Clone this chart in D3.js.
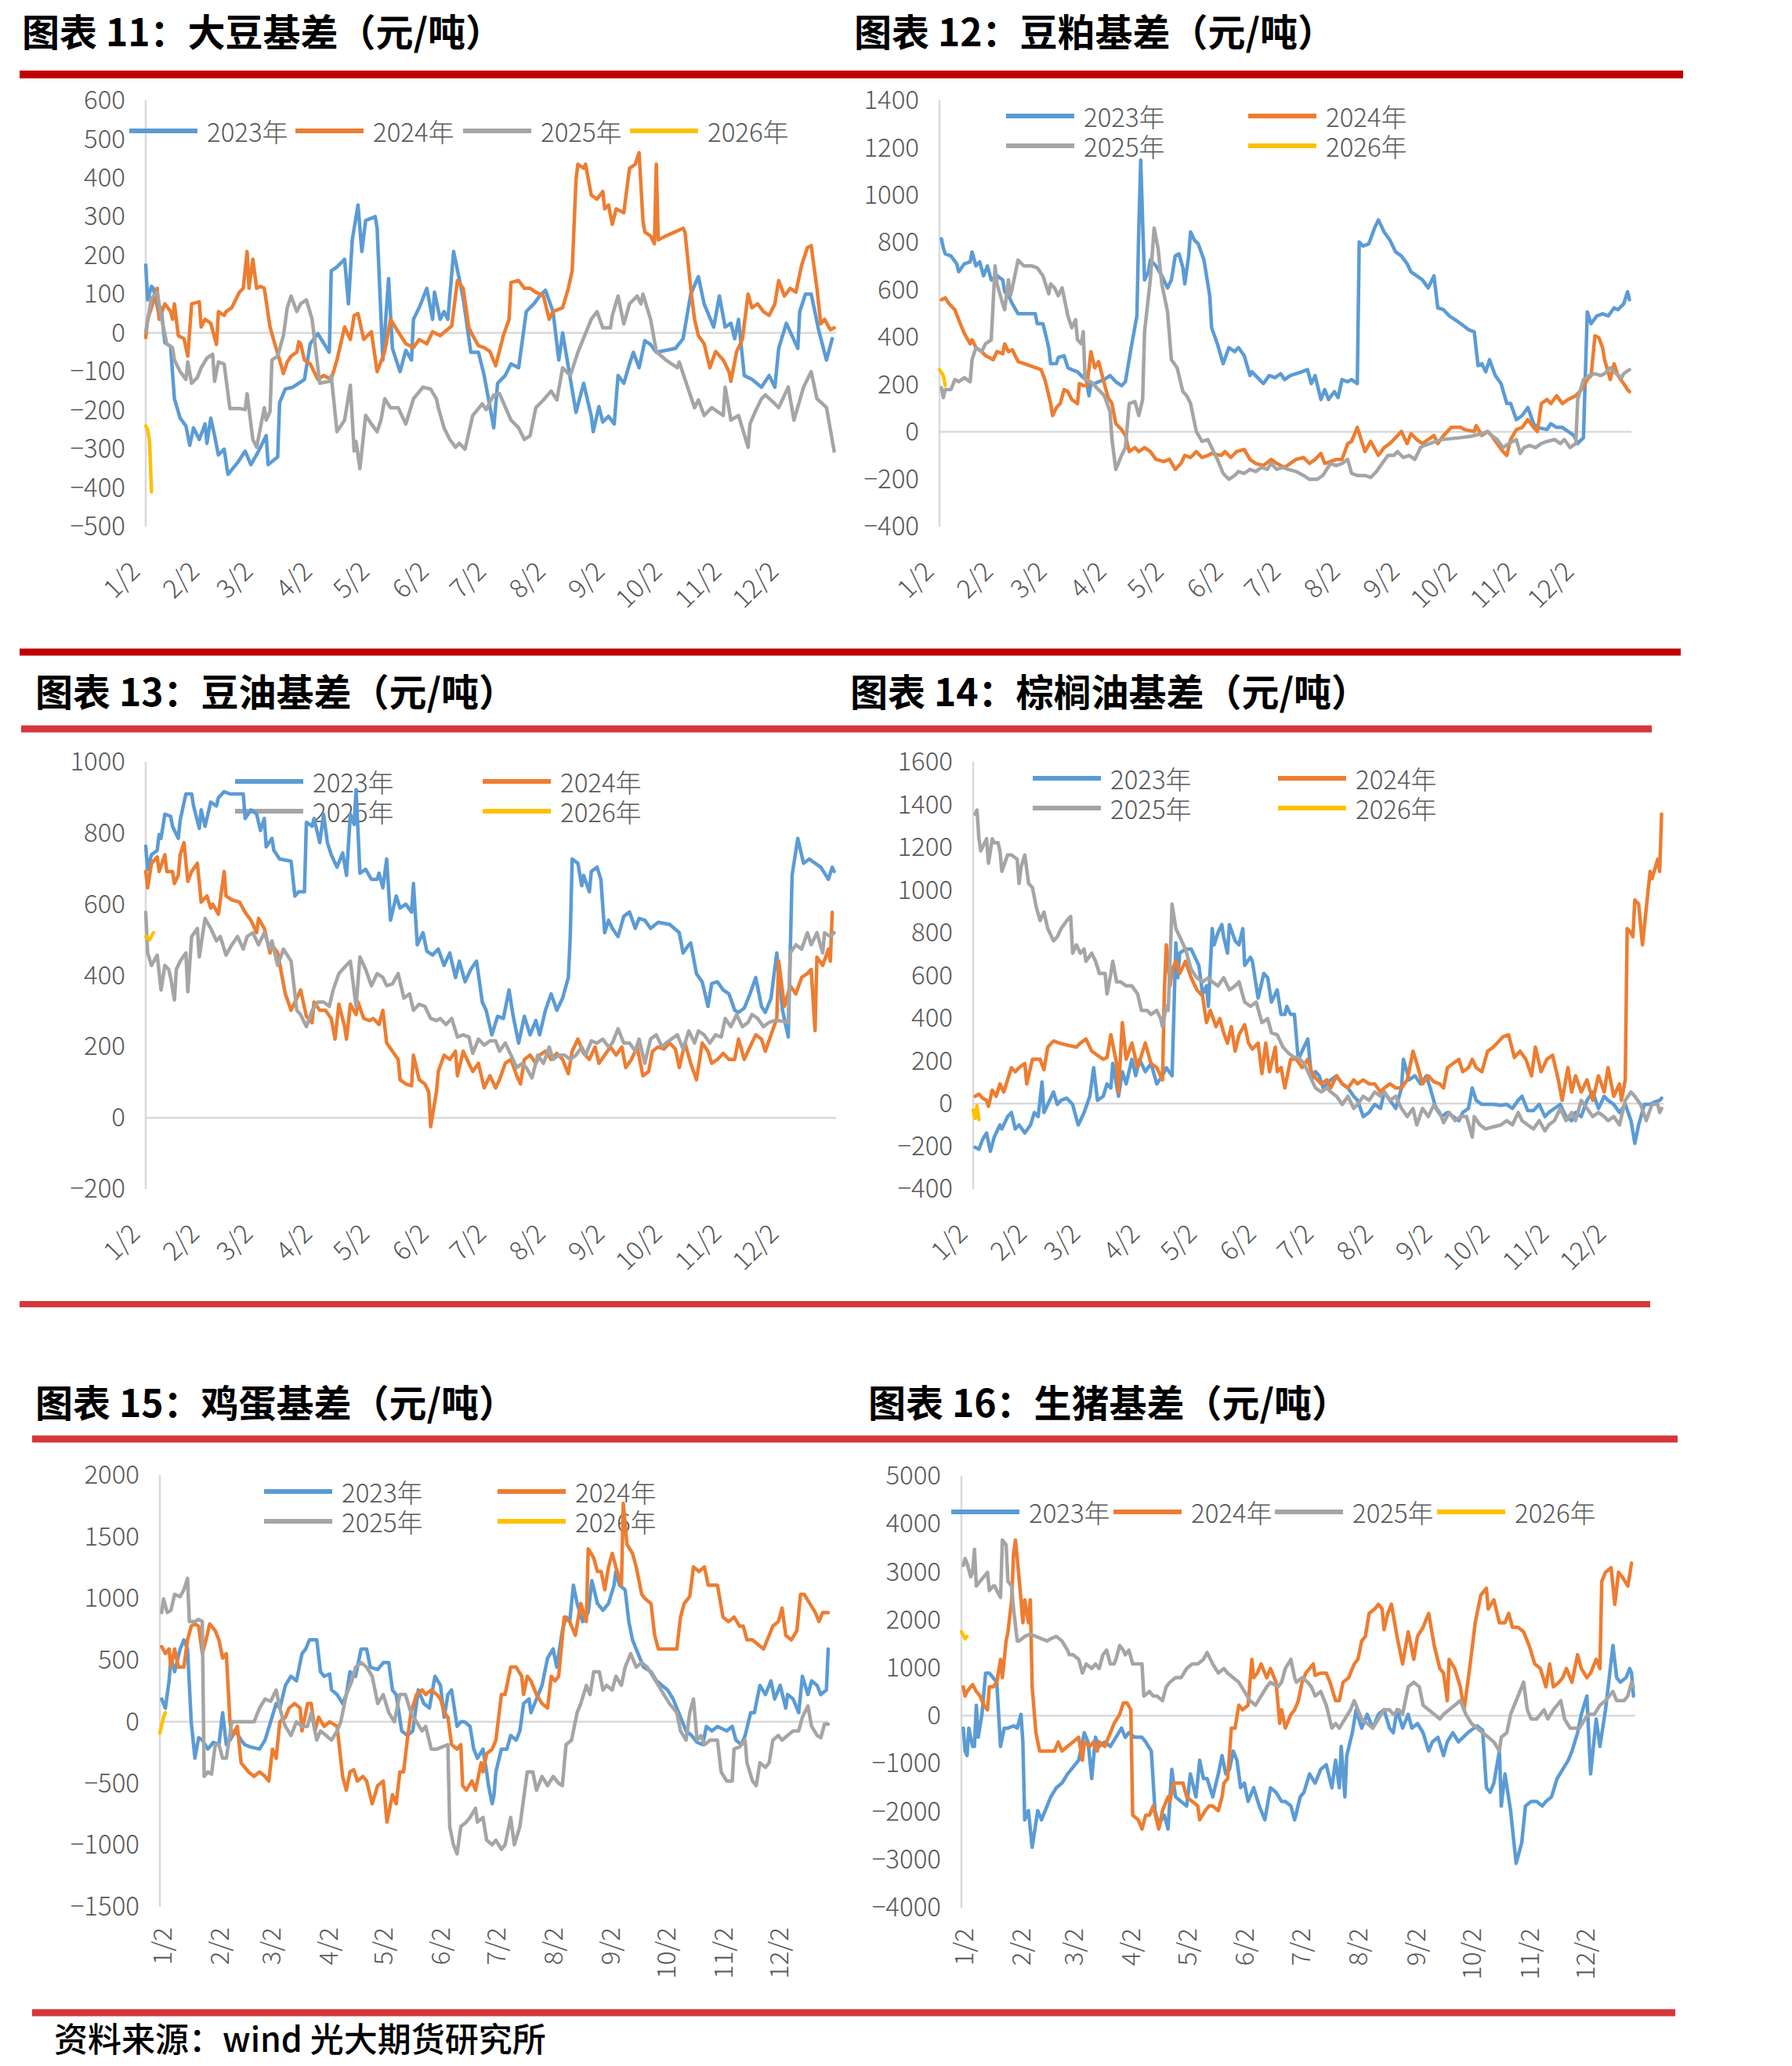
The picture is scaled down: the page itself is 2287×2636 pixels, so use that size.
<!DOCTYPE html>
<html>
<head>
<meta charset="utf-8">
<script src="https://cdn.jsdelivr.net/npm/d3@7"></script>
<style>
  body { margin: 0; background: #fff; }
  text { font-family: "Noto Sans CJK SC", "Noto Sans", sans-serif; }
</style>
</head>
<body>
<svg id="page" width="2287" height="2636"></svg>
<script>
const W = 2287, H = 2636;

const yearNames = ['2023年', '2024年', '2025年', '2026年'];
const yearColors = ['#5B9BD5', '#ED7D31', '#A5A5A5', '#FFC000'];
const monthLabels = ['1/2','2/2','3/2','4/2','5/2','6/2','7/2','8/2','9/2','10/2','11/2','12/2'];
const sourceText = '资料来源：wind 光大期货研究所';

// [days since 1/2, basis] pairs
const soy23 = [[0,175],[1,85],[3,120],[4,115],[7,45],[8,65],[10,-25],[13,-35],[15,-170],[18,-220],[21,-240],[23,-290],[25,-245],[28,-275],[31,-235],[32,-285],[34,-220],[36,-265],[38,-315],[41,-300],[43,-365],[48,-335],[52,-305],[55,-340],[59,-305],[63,-265],[64,-340],[69,-320],[70,-180],[73,-145],[77,-140],[83,-120],[86,-28],[90,-2],[96,-50],[97,160],[100,170],[104,190],[106,75],[108,240],[111,330],[113,210],[115,290],[120,300],[121,270],[124,-70],[127,140],[129,-40],[133,-100],[136,-45],[139,-70],[140,35],[143,65],[147,115],[150,35],[151,105],[154,35],[156,55],[158,35],[161,210],[166,90],[170,-50],[174,-50],[177,-110],[182,-245],[184,-130],[188,-110],[191,-80],[195,-90],[199,55],[203,75],[206,95],[209,110],[213,55],[216,-70],[218,0],[225,-205],[229,-130],[233,-215],[234,-255],[237,-190],[239,-230],[242,-215],[245,-235],[247,-110],[250,-130],[253,-80],[255,-50],[258,-90],[261,-20],[264,-30],[267,-50],[277,-40],[281,-15],[285,100],[289,145],[292,75],[297,15],[300,95],[303,15],[306,25],[308,-15],[310,35],[313,-110],[317,-120],[322,-140],[326,-110],[329,-140],[331,-40],[335,25],[341,-40],[342,55],[345,100],[348,100],[352,5],[356,-70],[359,-15]];
const soy24 = [[0,-12],[1,35],[3,65],[6,115],[7,35],[10,75],[13,55],[14,35],[15,75],[17,-7],[20,-15],[22,-60],[24,75],[28,80],[29,15],[31,35],[34,25],[37,-30],[38,55],[41,45],[42,55],[45,65],[49,105],[51,115],[53,210],[54,115],[56,190],[58,115],[60,120],[62,115],[65,15],[67,-20],[70,-70],[72,-105],[74,-75],[76,-60],[79,-50],[80,-23],[81,-28],[83,-70],[86,-80],[90,-120],[93,-110],[97,-120],[100,-70],[104,15],[107,-17],[109,45],[111,50],[114,-17],[118,3],[121,-100],[125,-48],[128,35],[132,3],[136,-28],[140,-38],[143,-17],[147,-28],[150,3],[154,-7],[160,18],[163,135],[166,115],[169,13],[171,-7],[174,-33],[177,-38],[180,-48],[183,-85],[187,-7],[190,35],[191,130],[195,135],[198,115],[201,115],[204,105],[208,95],[211,35],[213,55],[218,65],[221,115],[223,160],[225,395],[226,435],[229,425],[230,435],[233,355],[236,345],[239,365],[240,320],[242,330],[244,280],[246,320],[250,310],[253,425],[256,435],[258,465],[260,290],[261,260],[264,250],[266,230],[267,435],[268,240],[272,250],[281,270],[282,260],[285,115],[287,35],[289,-7],[292,-28],[295,-90],[298,-48],[302,-70],[305,-100],[306,-125],[309,-48],[312,-17],[315,100],[317,65],[320,75],[323,55],[326,45],[329,75],[331,135],[334,95],[337,115],[340,105],[343,175],[346,220],[348,225],[351,115],[353,23],[355,35],[358,8],[360,13]];
const soy25 = [[0,3],[3,90],[6,105],[8,45],[11,-28],[14,-38],[15,-70],[18,-100],[21,-120],[22,-75],[24,-130],[27,-115],[29,-90],[32,-65],[35,-55],[36,-125],[38,-75],[41,-80],[44,-195],[49,-195],[52,-198],[53,-157],[56,-275],[58,-295],[62,-193],[63,-225],[65,-203],[66,-70],[69,-60],[72,-7],[74,65],[76,95],[79,55],[81,75],[84,85],[87,35],[91,-130],[96,-125],[97,-110],[100,-255],[104,-225],[107,-135],[109,-305],[110,-280],[112,-350],[115,-213],[118,-235],[121,-255],[123,-225],[125,-170],[128,-193],[132,-193],[136,-235],[140,-170],[145,-140],[149,-145],[152,-170],[153,-193],[156,-245],[159,-275],[162,-295],[164,-285],[167,-300],[171,-213],[176,-183],[178,-198],[182,-160],[185,-157],[191,-225],[195,-245],[198,-275],[201,-265],[204,-193],[208,-173],[212,-150],[215,-173],[218,-90],[222,-110],[226,-50],[233,35],[236,55],[239,13],[243,13],[244,45],[247,95],[250,23],[253,75],[257,95],[259,75],[260,100],[264,35],[267,-48],[272,-70],[278,-90],[279,-75],[282,-120],[287,-193],[289,-173],[292,-213],[296,-193],[302,-213],[303,-140],[306,-225],[310,-213],[315,-295],[316,-235],[319,-200],[322,-170],[324,-160],[329,-183],[331,-193],[336,-140],[339,-225],[344,-140],[348,-100],[351,-170],[354,-183],[356,-193],[360,-305]];
const soy26 = [[0,-240],[1,-250],[2,-280],[3,-410]];

const meal23 = [[1,815],[2,777],[3,752],[6,743],[9,710],[10,676],[13,710],[16,718],[17,760],[19,701],[21,718],[23,659],[25,701],[27,642],[30,659],[33,642],[34,592],[36,575],[38,541],[41,499],[46,499],[50,499],[51,457],[54,457],[57,356],[58,288],[61,288],[62,314],[65,322],[67,271],[69,263],[72,254],[75,229],[76,246],[78,153],[79,204],[81,204],[83,212],[86,221],[89,238],[92,212],[95,195],[97,212],[100,356],[103,490],[104,861],[105,1148],[106,884],[107,642],[109,676],[110,726],[113,701],[116,659],[119,608],[121,642],[123,743],[125,752],[127,693],[128,625],[130,743],[131,844],[133,810],[135,794],[138,726],[141,575],[142,440],[145,372],[148,288],[151,356],[154,339],[156,356],[159,322],[162,238],[163,254],[166,229],[169,204],[172,238],[175,229],[178,246],[180,221],[183,238],[186,246],[189,254],[192,263],[194,204],[196,238],[199,137],[201,179],[203,137],[206,170],[208,145],[210,221],[213,212],[215,221],[218,204],[219,802],[221,785],[224,794],[227,861],[229,895],[232,844],[235,810],[238,760],[241,743],[244,710],[246,676],[249,659],[252,642],[255,608],[258,659],[260,524],[263,516],[266,490],[269,474],[272,457],[276,432],[279,423],[281,280],[283,288],[285,254],[287,305],[290,238],[293,204],[296,120],[298,120],[301,52],[304,69],[307,103],[310,35],[312,19],[317,10],[319,35],[322,19],[325,19],[328,2],[331,-15],[333,-49],[336,-24],[338,507],[340,457],[343,490],[346,499],[349,490],[352,524],[354,516],[357,541],[359,592],[360,558]];
const meal24 = [[1,558],[3,566],[5,541],[8,516],[10,474],[13,415],[16,372],[17,389],[19,356],[22,339],[24,322],[26,314],[28,305],[30,339],[33,330],[34,372],[36,339],[38,347],[41,297],[47,280],[53,263],[55,221],[58,120],[59,69],[61,103],[63,120],[65,179],[67,170],[69,137],[72,120],[73,204],[75,196],[77,196],[79,339],[81,271],[83,297],[86,204],[88,145],[90,120],[92,35],[95,10],[97,-15],[99,-83],[102,-66],[104,-83],[107,-66],[110,-83],[113,-116],[117,-125],[120,-116],[123,-158],[126,-133],[128,-99],[131,-108],[134,-83],[137,-108],[140,-99],[142,-91],[147,-99],[149,-83],[152,-108],[155,-83],[159,-74],[162,-116],[165,-133],[169,-142],[173,-116],[176,-133],[180,-150],[183,-133],[186,-116],[190,-108],[193,-133],[196,-116],[199,-91],[201,-133],[204,-125],[207,-116],[210,-116],[213,-49],[215,-40],[218,19],[220,-32],[222,-83],[225,-40],[229,-99],[232,-66],[235,-49],[238,-24],[241,2],[244,-49],[246,-7],[249,-32],[252,-49],[255,-32],[258,-15],[260,-49],[263,-15],[267,19],[272,19],[274,10],[279,2],[280,27],[283,-15],[286,2],[288,-15],[291,-49],[294,-83],[296,-99],[298,-32],[301,10],[304,19],[307,52],[310,19],[312,2],[314,120],[317,137],[319,120],[322,153],[325,120],[328,137],[332,153],[335,179],[338,221],[340,238],[342,406],[344,398],[346,356],[347,305],[350,221],[352,288],[354,238],[357,204],[359,179],[360,170]];
const meal25 = [[1,187],[2,145],[3,179],[6,179],[8,221],[10,212],[13,229],[16,212],[17,305],[19,356],[22,339],[24,372],[27,389],[29,701],[30,625],[33,541],[34,516],[36,642],[37,575],[38,608],[41,726],[44,701],[48,701],[51,693],[54,659],[57,583],[58,625],[60,608],[62,575],[64,608],[67,490],[69,440],[71,474],[72,389],[74,372],[75,423],[76,221],[79,212],[82,187],[86,153],[89,86],[90,-32],[92,-158],[95,-99],[97,-66],[99,120],[102,128],[104,69],[106,137],[107,423],[110,642],[112,861],[114,777],[116,625],[119,507],[121,305],[124,271],[127,170],[129,153],[131,120],[134,2],[137,-40],[140,-32],[142,-66],[145,-116],[148,-175],[151,-200],[154,-184],[156,-167],[159,-175],[162,-158],[165,-167],[168,-150],[171,-158],[173,-133],[176,-158],[179,-150],[182,-158],[186,-167],[190,-184],[193,-200],[197,-200],[200,-184],[204,-133],[207,-142],[210,-133],[213,-116],[215,-175],[218,-184],[222,-184],[225,-192],[228,-167],[231,-133],[234,-99],[237,-99],[239,-83],[242,-108],[245,-99],[248,-116],[251,-66],[253,-57],[256,-49],[259,-40],[262,-32],[266,-29],[272,-24],[277,-19],[283,-7],[286,2],[288,-15],[291,-32],[294,-66],[297,-49],[301,-32],[303,-91],[305,-66],[308,-57],[311,-66],[314,-49],[317,-40],[321,-32],[324,-49],[326,-32],[329,-66],[332,-49],[333,137],[336,221],[339,238],[342,246],[345,238],[347,246],[350,271],[353,246],[356,229],[357,246],[360,263]];
const meal26 = [[0,263],[2,238],[3,196]];

const oil23 = [[0,763],[1,698],[3,739],[6,751],[7,796],[8,785],[10,853],[13,847],[14,819],[17,785],[18,836],[21,910],[24,910],[25,876],[28,813],[29,865],[31,819],[34,887],[37,876],[38,899],[41,916],[44,910],[51,910],[52,841],[55,865],[58,853],[60,807],[62,841],[63,761],[66,785],[67,751],[70,727],[76,721],[78,623],[80,635],[83,635],[84,830],[87,819],[88,841],[91,773],[93,853],[95,773],[97,739],[100,704],[103,744],[105,681],[107,853],[109,824],[110,922],[112,687],[115,698],[118,670],[121,670],[122,687],[124,646],[126,727],[128,555],[131,623],[133,589],[136,600],[139,578],[140,658],[142,486],[145,520],[147,468],[150,457],[153,474],[156,428],[159,463],[162,394],[164,440],[167,382],[170,417],[173,440],[176,325],[178,302],[181,233],[184,285],[187,279],[190,359],[192,290],[195,210],[198,285],[201,233],[204,273],[206,233],[209,302],[212,348],[215,302],[218,336],[221,394],[222,509],[223,727],[226,715],[228,652],[229,681],[232,635],[233,692],[236,704],[238,670],[240,520],[242,555],[244,532],[247,509],[250,566],[253,578],[256,532],[258,560],[261,555],[264,532],[268,549],[274,543],[279,520],[281,463],[284,486],[285,491],[288,405],[291,382],[294,313],[296,377],[299,382],[302,359],[305,348],[308,302],[310,296],[313,308],[316,348],[319,394],[322,313],[324,296],[327,336],[330,463],[333,302],[336,227],[338,681],[341,785],[344,715],[347,727],[350,715],[353,704],[355,687],[357,670],[359,704],[360,692]];
const oil24 = [[0,692],[1,646],[3,715],[6,733],[7,692],[10,739],[11,692],[14,692],[15,658],[17,681],[18,739],[20,773],[22,664],[24,692],[27,715],[29,606],[32,623],[34,589],[35,600],[38,572],[41,692],[42,623],[45,612],[49,606],[52,577],[55,555],[58,520],[59,560],[62,532],[65,463],[66,486],[69,463],[71,405],[73,348],[76,302],[79,336],[81,359],[84,285],[87,267],[88,325],[91,302],[94,302],[97,279],[99,221],[101,319],[104,256],[105,221],[107,319],[110,290],[111,325],[114,279],[117,273],[119,279],[122,262],[124,302],[126,210],[129,187],[132,164],[133,107],[136,95],[139,90],[140,176],[143,107],[146,95],[148,72],[149,-25],[152,72],[153,130],[156,176],[159,164],[162,187],[163,118],[166,187],[169,153],[171,130],[174,153],[177,84],[180,118],[183,84],[185,107],[188,153],[191,164],[194,118],[196,95],[198,164],[201,176],[204,153],[206,176],[209,187],[212,164],[215,181],[218,164],[221,124],[223,187],[226,221],[229,181],[232,164],[235,199],[237,153],[240,176],[243,199],[246,176],[249,199],[251,141],[254,164],[257,199],[260,118],[263,130],[265,187],[268,199],[271,193],[274,210],[277,193],[279,141],[282,210],[285,153],[288,107],[291,210],[294,187],[296,153],[299,164],[302,181],[305,164],[308,164],[310,221],[313,164],[316,199],[319,233],[322,221],[324,187],[327,233],[330,279],[331,440],[334,313],[337,371],[340,348],[343,394],[346,405],[348,417],[350,245],[351,451],[354,428],[357,474],[358,440],[359,577]];
const oil25 = [[0,577],[1,463],[3,428],[6,457],[8,359],[10,428],[12,417],[13,394],[15,331],[16,417],[18,440],[21,463],[22,354],[24,509],[27,532],[28,452],[31,560],[34,532],[37,497],[39,509],[42,457],[45,486],[48,509],[51,474],[53,509],[56,520],[59,486],[62,520],[65,474],[66,497],[69,428],[72,474],[76,440],[79,302],[81,290],[84,256],[87,302],[90,325],[93,325],[96,313],[98,359],[101,405],[104,423],[107,440],[110,313],[112,452],[115,417],[118,371],[121,405],[124,394],[126,371],[129,376],[132,405],[135,336],[138,348],[140,302],[143,319],[146,313],[149,279],[152,273],[154,279],[157,262],[160,279],[163,227],[166,233],[169,227],[171,181],[174,221],[177,204],[180,216],[183,216],[185,187],[188,210],[191,176],[194,141],[197,153],[199,141],[202,112],[205,176],[208,153],[211,199],[213,164],[216,176],[219,176],[222,164],[225,176],[228,199],[230,176],[233,216],[236,210],[239,221],[242,199],[244,210],[247,250],[250,210],[253,210],[256,187],[258,221],[261,153],[264,221],[267,233],[270,199],[272,210],[278,233],[281,193],[284,244],[287,210],[289,244],[292,233],[295,210],[298,233],[301,227],[303,279],[306,256],[309,290],[312,256],[315,268],[317,290],[320,279],[323,256],[326,268],[329,273],[331,273],[336,268],[337,463],[340,486],[343,474],[346,520],[348,486],[351,520],[354,463],[355,520],[358,509],[360,520]];
const oil26 = [[0,509],[2,500],[4,520]];

const palm23 = [[1,-205],[3,-214],[5,-167],[7,-138],[9,-224],[11,-157],[14,-100],[15,-119],[18,-61],[20,-42],[22,-119],[24,-100],[27,-138],[30,-100],[32,-42],[34,-61],[36,101],[37,-42],[39,-4],[42,54],[44,-4],[46,15],[49,25],[52,-4],[54,-71],[55,-100],[58,-42],[61,34],[63,168],[65,15],[68,34],[70,92],[72,73],[73,188],[76,34],[78,149],[80,92],[83,207],[85,130],[87,207],[90,149],[93,188],[96,92],[99,130],[101,168],[104,130],[106,752],[107,589],[108,704],[111,723],[114,723],[116,685],[118,647],[120,513],[122,551],[123,455],[125,819],[126,743],[128,800],[130,838],[131,781],[133,704],[134,838],[137,762],[139,743],[141,819],[142,647],[145,685],[146,666],[149,494],[152,609],[154,589],[156,475],[159,532],[161,417],[163,417],[164,455],[166,417],[168,417],[170,207],[173,264],[175,302],[177,111],[179,149],[181,130],[183,73],[187,111],[190,130],[193,92],[196,73],[199,34],[201,15],[204,-61],[207,-42],[210,-4],[213,-23],[215,54],[218,15],[221,-23],[224,73],[225,207],[228,111],[231,130],[234,92],[237,130],[239,73],[242,-23],[245,-61],[248,-42],[251,-61],[254,-80],[256,-42],[259,-23],[261,73],[263,15],[266,-4],[269,-4],[272,-4],[276,-8],[279,-4],[282,-23],[285,15],[287,34],[290,-33],[293,-33],[296,-4],[299,-61],[301,-42],[304,-23],[307,-4],[310,-61],[313,-80],[315,-42],[318,-61],[321,15],[324,54],[327,-23],[330,34],[332,15],[335,-4],[338,-42],[341,-4],[344,-80],[346,-186],[348,-100],[351,-4],[354,-4],[356,6],[359,15],[360,25]];
const palm24 = [[1,34],[3,44],[5,25],[7,15],[8,-13],[10,63],[12,34],[14,92],[16,54],[18,111],[20,168],[22,149],[24,168],[27,188],[28,92],[31,207],[33,207],[35,207],[37,159],[39,264],[42,293],[45,283],[49,274],[54,264],[56,283],[59,302],[62,245],[65,226],[68,207],[70,216],[72,322],[75,188],[76,54],[78,379],[80,207],[83,283],[86,168],[88,226],[90,283],[93,188],[96,168],[99,111],[100,532],[101,743],[103,551],[104,628],[106,666],[108,609],[111,666],[114,589],[117,532],[120,503],[122,379],[124,436],[127,360],[129,398],[131,331],[133,283],[135,360],[137,245],[139,322],[142,369],[144,283],[146,255],[149,283],[151,140],[153,283],[155,149],[158,264],[159,149],[161,168],[163,73],[166,207],[169,207],[172,168],[175,207],[177,149],[179,121],[182,92],[185,111],[187,73],[190,130],[193,92],[196,73],[199,111],[201,92],[204,111],[207,92],[210,92],[213,54],[215,73],[218,92],[221,73],[224,73],[227,111],[230,245],[232,188],[235,92],[238,130],[241,101],[244,92],[246,73],[248,168],[251,188],[254,207],[256,149],[259,168],[261,207],[263,168],[266,149],[269,245],[272,264],[275,293],[277,312],[280,322],[283,216],[286,245],[289,207],[292,130],[294,264],[297,149],[300,207],[303,226],[306,111],[308,15],[311,168],[313,54],[315,130],[318,54],[321,111],[324,15],[327,130],[330,54],[332,168],[335,34],[338,92],[339,15],[341,111],[342,819],[344,800],[345,781],[346,953],[348,934],[350,743],[352,915],[354,1087],[355,1053],[358,1144],[359,1087],[360,1355]];
const palm25 = [[1,1355],[2,1374],[3,1240],[4,1183],[6,1221],[7,1240],[8,1125],[10,1240],[11,1221],[13,1221],[14,1183],[15,1087],[18,1164],[20,1164],[23,1144],[24,1030],[25,1106],[27,1164],[29,1030],[31,1011],[33,919],[35,857],[37,896],[39,819],[42,762],[44,781],[46,819],[49,857],[51,876],[52,704],[54,743],[56,704],[58,723],[59,666],[62,704],[64,666],[66,609],[69,609],[70,513],[72,609],[73,666],[75,570],[77,570],[80,551],[83,551],[86,513],[88,436],[91,436],[93,417],[96,436],[98,398],[99,360],[101,455],[102,436],[104,934],[106,819],[108,781],[111,723],[114,628],[117,589],[120,570],[123,589],[125,570],[128,551],[131,589],[134,532],[137,551],[139,570],[142,475],[145,455],[148,475],[151,379],[154,398],[156,331],[159,322],[162,264],[165,235],[168,216],[170,216],[173,188],[176,130],[179,73],[182,54],[185,73],[187,54],[190,34],[193,-4],[196,34],[199,-23],[201,-4],[204,34],[207,15],[210,54],[213,34],[215,54],[218,15],[221,34],[224,-23],[227,-61],[230,-23],[232,-100],[235,-23],[238,-61],[241,-4],[244,-42],[246,-90],[249,-42],[252,-80],[255,-61],[258,-61],[261,-157],[262,-61],[265,-100],[268,-119],[272,-109],[276,-100],[279,-80],[282,-100],[285,-42],[287,-80],[290,-100],[293,-119],[296,-80],[299,-128],[301,-100],[304,-80],[307,-23],[310,-80],[313,-42],[315,-80],[318,15],[321,-23],[324,-61],[327,-42],[330,-61],[332,-80],[335,-61],[338,-100],[341,15],[344,54],[346,34],[349,-4],[352,-80],[355,-4],[358,-4],[359,-42],[360,-23]];
const palm26 = [[0,-30],[1,-70],[2,-10],[3,-75]];

const egg23 = [[1,185],[3,111],[5,332],[6,517],[8,406],[11,590],[13,664],[15,590],[17,0],[19,-295],[21,-129],[23,-148],[26,-221],[29,-166],[32,-185],[34,74],[36,-185],[38,-148],[41,-74],[44,-148],[46,-185],[49,-203],[54,-221],[57,-148],[60,0],[63,148],[65,111],[68,295],[71,369],[74,332],[77,553],[79,590],[81,664],[85,664],[87,406],[89,369],[92,387],[93,258],[96,221],[99,148],[101,221],[103,406],[106,369],[109,590],[112,590],[114,443],[118,424],[121,480],[124,480],[126,258],[128,221],[131,-74],[134,-111],[137,-74],[140,258],[143,148],[146,111],[149,369],[152,295],[154,37],[156,221],[158,258],[161,-37],[163,0],[165,0],[168,-37],[170,-221],[172,-295],[175,-221],[177,-406],[178,-517],[180,-664],[181,-590],[182,-406],[185,-221],[188,-221],[190,-111],[193,-148],[195,-74],[197,148],[200,185],[201,74],[204,185],[207,295],[210,517],[213,590],[215,443],[218,738],[220,849],[222,812],[224,1107],[226,959],[229,812],[232,886],[234,1144],[237,959],[240,904],[243,959],[246,1107],[247,1218],[249,1107],[252,1070],[254,812],[256,664],[259,553],[262,443],[266,406],[269,332],[272,295],[275,258],[278,185],[281,74],[285,-74],[288,-111],[291,-166],[294,-185],[296,-37],[299,-74],[302,-37],[307,-74],[310,-37],[312,-148],[315,-185],[317,-111],[320,74],[322,74],[325,295],[328,221],[331,332],[333,185],[336,295],[339,111],[340,221],[343,185],[346,74],[348,369],[351,221],[353,332],[356,295],[358,221],[361,258],[362,590]];
const egg24 = [[1,609],[3,553],[5,590],[6,443],[8,590],[10,443],[13,443],[15,664],[17,775],[19,793],[21,775],[23,553],[25,664],[27,793],[30,738],[32,664],[34,517],[36,553],[38,0],[39,-111],[42,-37],[44,-332],[48,-406],[51,-443],[54,-406],[57,-443],[59,-480],[61,-221],[63,-295],[65,0],[68,37],[70,111],[73,148],[76,111],[77,-74],[80,148],[82,148],[84,-74],[86,37],[89,-37],[92,0],[96,-37],[99,-443],[101,-554],[103,-406],[105,-387],[107,-480],[110,-443],[112,-480],[115,-664],[118,-517],[121,-480],[123,-812],[125,-664],[126,-590],[128,-664],[130,-406],[132,-406],[134,-148],[136,74],[139,221],[142,258],[144,221],[147,258],[150,221],[152,185],[154,74],[156,37],[158,-185],[161,-221],[163,-185],[164,-517],[166,-554],[169,-480],[171,-554],[174,-332],[175,-406],[177,-258],[180,-221],[182,-148],[185,221],[187,221],[190,443],[193,443],[196,369],[197,221],[199,369],[201,332],[204,221],[207,148],[210,111],[212,369],[214,332],[216,369],[219,849],[222,812],[225,701],[228,959],[231,812],[232,1402],[235,1328],[237,1218],[239,1218],[241,1070],[243,1255],[245,1365],[247,1255],[250,1107],[251,1771],[253,1439],[256,1365],[258,1255],[261,1033],[263,996],[266,959],[268,701],[270,590],[272,590],[275,590],[280,590],[282,849],[284,959],[287,1015],[289,1255],[292,1218],[295,1255],[297,1107],[299,1107],[302,1107],[305,849],[308,812],[311,849],[314,775],[316,775],[318,664],[321,664],[324,627],[327,590],[330,701],[332,775],[335,812],[337,922],[339,701],[342,664],[345,738],[347,1033],[349,1033],[352,959],[355,886],[357,812],[359,886],[362,886]];
const egg25 = [[1,886],[2,996],[4,886],[6,904],[8,1033],[11,1015],[13,1070],[15,1162],[16,812],[19,812],[21,830],[23,812],[24,-443],[26,-406],[28,-424],[30,-185],[32,-185],[34,-295],[36,-295],[39,0],[42,0],[48,0],[51,0],[54,111],[57,185],[60,166],[63,258],[65,111],[67,0],[68,-37],[71,-111],[74,0],[77,-37],[80,-37],[82,74],[85,-148],[87,-74],[90,-111],[93,-148],[96,-74],[98,0],[101,221],[104,332],[106,443],[109,480],[112,443],[115,369],[118,148],[121,221],[124,74],[127,0],[130,221],[133,221],[136,74],[139,0],[142,-74],[144,-37],[147,-221],[150,-221],[153,-203],[156,-185],[157,-849],[159,-996],[161,-1070],[163,-849],[166,-812],[168,-775],[171,-701],[172,-812],[175,-775],[177,-959],[180,-996],[182,-959],[185,-1033],[187,-996],[190,-775],[192,-996],[195,-849],[197,-627],[199,-406],[202,-406],[204,-554],[207,-443],[210,-517],[213,-443],[216,-498],[218,-517],[220,-185],[223,-148],[226,74],[228,148],[231,295],[233,221],[235,406],[238,406],[240,258],[242,295],[245,258],[247,369],[250,295],[252,443],[255,553],[258,443],[261,480],[264,443],[267,369],[270,295],[273,221],[276,148],[280,74],[282,-74],[285,-148],[287,74],[289,185],[291,-148],[293,-111],[295,-185],[298,-148],[300,-148],[302,-148],[304,-406],[307,-480],[310,-480],[311,-221],[314,-203],[317,-148],[318,-332],[321,-480],[323,-517],[325,-332],[328,-369],[330,-332],[332,-148],[335,-111],[337,-148],[340,-111],[343,-74],[346,-74],[348,37],[351,129],[353,-37],[356,-111],[358,-129],[360,-18],[362,-18]];
const egg26 = [[0,-92],[2,37],[3,74]];

const hog23 = [[1,-258],[2,-736],[3,-831],[4,-258],[6,-640],[7,-640],[8,220],[9,-449],[11,29],[13,889],[15,889],[17,793],[19,698],[21,-640],[23,-258],[25,-258],[28,-210],[30,-258],[32,29],[33,-545],[34,-2169],[36,-1978],[38,-2742],[41,-1978],[43,-2169],[46,-1882],[48,-1691],[51,-1500],[54,-1404],[57,-1213],[59,-1118],[61,-1022],[63,-927],[66,-354],[68,-545],[70,-1309],[72,-449],[74,-640],[77,-545],[80,-640],[83,-449],[86,-258],[88,-449],[90,-354],[93,-449],[97,-449],[99,-545],[102,-736],[104,-1978],[106,-2264],[109,-2073],[111,-2360],[113,-1118],[115,-1691],[118,-1787],[121,-1882],[123,-1213],[126,-1691],[128,-927],[130,-1309],[132,-1309],[135,-1691],[138,-1213],[140,-831],[142,-1213],[144,-1118],[146,-736],[148,-927],[150,-1500],[152,-1404],[154,-1787],[157,-1500],[160,-1882],[163,-2169],[166,-1500],[169,-1596],[172,-1787],[174,-1787],[177,-1882],[179,-2169],[182,-1691],[184,-1596],[187,-1213],[190,-1404],[193,-1118],[196,-1022],[199,-1500],[201,-927],[203,-1500],[204,-640],[206,-1691],[207,-831],[210,-354],[212,124],[215,-258],[218,29],[221,-258],[224,29],[227,124],[230,-258],[232,-354],[234,124],[237,-258],[240,29],[242,-258],[245,-162],[248,-354],[251,-736],[253,-545],[256,-449],[259,-831],[261,-545],[264,-354],[267,-545],[272,-354],[277,-210],[280,-306],[282,-1500],[284,-1596],[286,-1404],[289,-736],[290,-1882],[292,-1213],[295,-1978],[298,-3076],[299,-2933],[301,-2646],[303,-1882],[306,-1787],[309,-1787],[312,-1882],[314,-1787],[317,-1691],[320,-1309],[323,-1118],[326,-927],[328,-736],[331,-354],[333,29],[336,411],[338,-1213],[341,-67],[343,-640],[346,124],[348,793],[350,1462],[352,793],[354,698],[357,793],[359,984],[360,889],[361,411]];
const hog24 = [[1,602],[2,411],[3,506],[6,650],[8,506],[10,411],[12,220],[14,124],[15,602],[17,602],[19,698],[21,1175],[22,793],[24,1557],[25,1748],[27,2417],[28,3373],[29,3660],[30,3277],[32,2417],[33,1939],[34,2417],[36,1939],[37,2417],[38,602],[40,-354],[42,-736],[43,-736],[46,-736],[50,-736],[52,-545],[54,-736],[57,-640],[60,-545],[63,-449],[65,-927],[66,-545],[69,-640],[71,-545],[73,-736],[74,-545],[77,-640],[80,-354],[82,-162],[85,29],[87,268],[89,268],[91,124],[92,-2073],[95,-2169],[97,-2360],[99,-2073],[101,-2073],[103,-1882],[106,-2360],[108,-1978],[111,-1691],[112,-1787],[114,-1404],[116,-1404],[118,-1404],[119,-1404],[121,-1691],[124,-1787],[127,-1882],[128,-2169],[131,-1978],[133,-1882],[135,-1882],[138,-1978],[140,-1691],[141,-1404],[143,-1309],[145,-258],[147,-258],[149,220],[151,124],[154,220],[156,1175],[157,793],[159,889],[161,1079],[164,793],[166,984],[169,698],[171,-162],[172,124],[174,-258],[177,29],[179,124],[181,315],[183,698],[185,889],[187,984],[189,1079],[190,841],[193,889],[196,889],[198,698],[201,315],[203,315],[205,698],[208,793],[211,1079],[213,1175],[215,1557],[217,1653],[219,2131],[222,2226],[224,2322],[226,2226],[227,1796],[229,2131],[231,2322],[234,1653],[237,1079],[240,1748],[243,1175],[245,1653],[248,1844],[251,2131],[254,1462],[257,984],[259,889],[261,315],[262,1175],[265,984],[268,602],[270,124],[273,984],[276,1939],[279,2513],[282,2656],[283,2226],[286,2417],[289,1939],[292,1939],[294,2131],[296,1844],[299,1844],[302,1748],[305,1462],[308,1079],[311,984],[314,602],[316,1079],[318,602],[321,698],[323,793],[325,984],[328,698],[331,1271],[333,984],[336,793],[338,889],[341,1175],[343,984],[344,2800],[346,2990],[349,3086],[351,2322],[353,2990],[355,2895],[358,2704],[360,3181]];
const hog25 = [[1,3133],[2,3277],[3,3181],[5,2895],[6,2990],[7,3468],[8,2704],[10,2800],[12,2895],[14,2990],[15,2608],[17,2704],[18,2704],[19,2608],[21,2465],[22,3660],[24,3564],[25,2800],[27,2704],[28,2226],[30,1557],[31,1557],[34,1653],[37,1701],[40,1653],[43,1605],[46,1557],[48,1605],[51,1653],[54,1557],[57,1366],[58,1271],[60,1271],[63,1175],[65,889],[67,1079],[70,984],[72,1079],[74,984],[76,1271],[78,1366],[80,1079],[82,1079],[83,1175],[85,1462],[87,1366],[88,1271],[90,1366],[92,1079],[95,1079],[97,1079],[98,411],[101,506],[103,411],[105,411],[108,315],[110,602],[112,698],[115,793],[118,793],[121,984],[124,1079],[127,1079],[130,1175],[132,1318],[135,1079],[138,889],[141,984],[143,889],[146,793],[149,698],[152,506],[155,315],[158,220],[161,411],[164,602],[166,698],[170,602],[172,698],[174,984],[177,1175],[179,793],[180,698],[183,793],[186,698],[188,602],[190,411],[193,506],[196,220],[199,-258],[201,-162],[203,-258],[206,-67],[209,124],[211,315],[213,124],[215,-67],[218,-162],[221,-258],[224,-67],[227,124],[230,124],[232,29],[235,124],[237,29],[240,602],[243,698],[246,602],[248,220],[251,124],[254,29],[257,-67],[259,29],[262,124],[265,220],[268,315],[271,29],[274,-162],[277,-258],[280,-354],[283,-449],[286,-545],[289,-736],[290,-449],[293,-354],[295,29],[298,315],[300,506],[302,698],[304,124],[306,-67],[309,-67],[311,29],[313,124],[315,-67],[318,124],[320,220],[322,315],[324,-67],[327,-258],[330,-258],[332,-258],[335,-67],[337,29],[340,29],[343,220],[346,315],[348,411],[350,506],[352,315],[356,315],[358,411],[360,698],[361,602]];
const hog26 = [[0,1748],[2,1605],[3,1653]];

const soyTicks = d3.range(-500, 601, 100);
const mealTicks = d3.range(-400, 1401, 200);
const oilTicks = d3.range(-200, 1001, 200);
const palmTicks = d3.range(-400, 1601, 200);
const eggTicks = d3.range(-1500, 2001, 500);
const hogTicks = d3.range(-4000, 5001, 1000);

const panels = [
  { title: '图表 11：大豆基差（元/吨）', tx: 28, ty: 38, left: 186, right: 1067, top: 128, bottom: 672,
    ticks: soyTicks, days: 361, rot: -45, lx: [165, 377, 591, 804], ly: [167, 167, 167, 167],
    series: [soy23, soy24, soy25, soy26] },
  { title: '图表 12：豆粕基差（元/吨）', tx: 1090, ty: 38, left: 1199, right: 2082, top: 128, bottom: 672,
    ticks: mealTicks, days: 361, rot: -45, lx: [1284, 1593, 1284, 1593], ly: [148, 148, 186, 186],
    series: [meal23, meal24, meal25, meal26] },
  { title: '图表 13：豆油基差（元/吨）', tx: 45, ty: 880, left: 186, right: 1067, top: 972, bottom: 1517,
    ticks: oilTicks, days: 361, rot: -45, lx: [300, 616, 300, 616], ly: [997, 997, 1035, 1035],
    series: [oil23, oil24, oil25, oil26] },
  { title: '图表 14：棕榈油基差（元/吨）', tx: 1085, ty: 880, left: 1242, right: 2123, top: 972, bottom: 1517,
    ticks: palmTicks, days: 361, rot: -45, lx: [1318, 1631, 1318, 1631], ly: [993, 993, 1031, 1031],
    series: [palm23, palm24, palm25, palm26] },
  { title: '图表 15：鸡蛋基差（元/吨）', tx: 45, ty: 1787, left: 204, right: 1057, top: 1882, bottom: 2433,
    ticks: eggTicks, days: 362, rot: -90, lx: [337, 635, 337, 635], ly: [1903, 1903, 1941, 1941],
    series: [egg23, egg24, egg25, egg26] },
  { title: '图表 16：生猪基差（元/吨）', tx: 1108, ty: 1787, left: 1227, right: 2087, top: 1883, bottom: 2434,
    ticks: hogTicks, days: 362, rot: -90, lx: [1214, 1421, 1627, 1834], ly: [1929, 1929, 1929, 1929],
    series: [hog23, hog24, hog25, hog26] }
];

const redRules = [
  { x1: 25, x2: 2148, y: 95, w: 10, c: '#C00000' },
  { x1: 25, x2: 2145, y: 832, w: 9, c: '#C00000' },
  { x1: 27, x2: 2108, y: 930, w: 9, c: '#D5373B' },
  { x1: 25, x2: 2106, y: 1664, w: 8, c: '#D5373B' },
  { x1: 41, x2: 2141, y: 1836, w: 9, c: '#D5373B' },
  { x1: 41, x2: 2138, y: 2568, w: 9, c: '#D5373B' }
];

const svg = d3.select('#page').attr('viewBox', `0 0 ${W} ${H}`);
svg.append('rect').attr('width', W).attr('height', H).attr('fill', '#fff');

svg.selectAll('line.rule').data(redRules).enter().append('line')
  .attr('class', 'rule')
  .attr('x1', d => d.x1).attr('x2', d => d.x2)
  .attr('y1', d => d.y).attr('y2', d => d.y)
  .attr('stroke', d => d.c).attr('stroke-width', d => d.w);

const base = new Date(2023, 0, 2);
const toDate = d => d3.timeDay.offset(base, d);
const monthTicks = monthLabels.map((_, i) => new Date(2023, i, 2));
const fmtY = v => (v < 0 ? '\u2212' + Math.abs(v) : String(v));

panels.forEach(p => {
  const g = svg.append('g');

  g.append('text')
    .attr('x', p.tx).attr('y', p.ty)
    .attr('dominant-baseline', 'central')
    .attr('font-size', 48).attr('font-weight', 700).attr('fill', '#000')
    .text(p.title);

  const x = d3.scaleTime().domain([base, toDate(p.days)]).range([p.left, p.right]);
  const y = d3.scaleLinear().domain([p.ticks[0], p.ticks[p.ticks.length - 1]]).range([p.bottom, p.top]);

  // value axis
  const yAxis = g.append('g').attr('transform', `translate(${p.left},0)`)
    .call(d3.axisLeft(y).tickValues(p.ticks).tickSize(0).tickPadding(26).tickFormat(fmtY));
  yAxis.select('.domain').remove();
  yAxis.selectAll('text')
    .attr('font-size', 33).attr('font-weight', 300).attr('fill', '#595959')
    .attr('font-family', '"Noto Sans CJK SC", "Noto Sans", sans-serif');

  g.append('line')
    .attr('x1', p.left).attr('x2', p.left).attr('y1', p.top).attr('y2', p.bottom)
    .attr('stroke', '#D9D9D9').attr('stroke-width', 2.5);
  g.append('line')
    .attr('x1', p.left).attr('x2', p.right).attr('y1', y(0)).attr('y2', y(0))
    .attr('stroke', '#D9D9D9').attr('stroke-width', 2.5);

  // date labels
  const xAxis = g.append('g').attr('transform', `translate(0,${p.bottom})`)
    .call(d3.axisBottom(x).tickValues(monthTicks).tickSize(0).tickFormat((d, i) => monthLabels[i]));
  xAxis.select('.domain').remove();
  const lab = xAxis.selectAll('text')
    .attr('font-size', 33).attr('font-weight', 300).attr('fill', '#595959')
    .attr('font-family', '"Noto Sans CJK SC", "Noto Sans", sans-serif')
    .attr('x', 0).attr('y', 0).attr('dy', null)
    .attr('text-anchor', 'end');
  if (p.rot === -45) {
    lab.attr('transform', 'translate(-6,59) rotate(-45)');
  } else {
    lab.attr('dominant-baseline', 'central').attr('transform', 'translate(0,26) rotate(-90)');
  }

  // legend
  const leg = g.append('g');
  yearNames.forEach((name, i) => {
    leg.append('line')
      .attr('x1', p.lx[i]).attr('x2', p.lx[i] + 87)
      .attr('y1', p.ly[i]).attr('y2', p.ly[i])
      .attr('stroke', yearColors[i]).attr('stroke-width', 6);
    leg.append('text')
      .attr('x', p.lx[i] + 99).attr('y', p.ly[i])
      .attr('dominant-baseline', 'central')
      .attr('font-size', 33).attr('font-weight', 300).attr('fill', '#595959')
      .text(name);
  });

  // series
  const line = d3.line().x(d => x(toDate(d[0]))).y(d => y(d[1]));
  p.series.forEach((s, i) => {
    g.append('path')
      .datum(s)
      .attr('d', line)
      .attr('fill', 'none')
      .attr('stroke', yearColors[i])
      .attr('stroke-width', 4.5)
      .attr('stroke-linejoin', 'round')
      .attr('stroke-linecap', 'round');
  });
});

svg.append('text')
  .attr('x', 69).attr('y', 2599)
  .attr('dominant-baseline', 'central')
  .attr('font-size', 43).attr('font-weight', 500).attr('fill', '#000')
  .text(sourceText);
</script>
</body>
</html>
